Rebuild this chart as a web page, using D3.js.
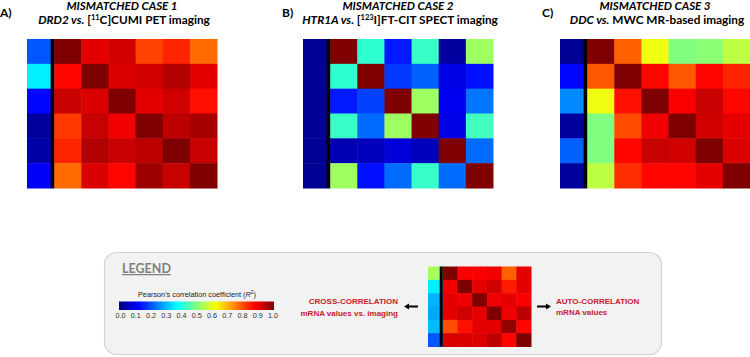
<!DOCTYPE html>
<html>
<head>
<meta charset="utf-8">
<script src="https://cdn.jsdelivr.net/npm/d3@7"></script>
<style>
  body { margin: 0; background: #fff; }
</style>
</head>
<body>
<div id="chart"></div>
<script>
const width = 750;
const height = 357;

// colour bar tick labels
const tickLabels = ['0.0', '0.1', '0.2', '0.3', '0.4', '0.5', '0.6', '0.7', '0.8', '0.9', '1.0'];

// case 1: DRD2 vs [11C]CUMI
const crossA = [0.21, 0.36, 0.13, 0.03, 0.04, 0.12];
const autoA = [
  [1.00, 0.90, 0.92, 0.81, 0.84, 0.77],
  [0.87, 1.00, 0.91, 0.92, 0.95, 0.90],
  [0.93, 0.91, 1.00, 0.90, 0.92, 0.86],
  [0.82, 0.93, 0.89, 1.00, 0.94, 0.96],
  [0.84, 0.95, 0.93, 0.94, 1.00, 0.93],
  [0.77, 0.91, 0.87, 0.97, 0.93, 1.00]
];

// case 2: HTR1A vs [123I]FT-CIT
const crossB = [0.02, 0.02, 0.02, 0.02, 0.02, 0.02];
const autoB = [
  [1.00, 0.42, 0.15, 0.43, 0.03, 0.53],
  [0.42, 1.00, 0.18, 0.22, 0.10, 0.14],
  [0.15, 0.19, 1.00, 0.53, 0.11, 0.24],
  [0.43, 0.23, 0.53, 1.00, 0.10, 0.44],
  [0.05, 0.06, 0.09, 0.06, 1.00, 0.23],
  [0.53, 0.14, 0.23, 0.43, 0.23, 1.00]
];

// case 3: DDC vs MWC
const crossC = [0.02, 0.13, 0.26, 0.03, 0.22, 0.03];
const autoC = [
  [1.00, 0.78, 0.61, 0.50, 0.51, 0.56],
  [0.79, 1.00, 0.87, 0.79, 0.87, 0.84],
  [0.61, 0.86, 1.00, 0.88, 0.93, 0.87],
  [0.50, 0.80, 0.89, 1.00, 0.92, 0.90],
  [0.50, 0.87, 0.93, 0.92, 1.00, 0.91],
  [0.56, 0.83, 0.87, 0.87, 0.90, 1.00]
];

// legend example
const crossL = [0.54, 0.36, 0.30, 0.29, 0.31, 0.21];
const autoL = [
  [1.00, 0.88, 0.88, 0.89, 0.78, 0.90],
  [0.89, 1.00, 0.90, 0.92, 0.85, 0.90],
  [0.90, 0.89, 1.00, 0.89, 0.90, 0.88],
  [0.90, 0.92, 0.90, 1.00, 0.89, 0.94],
  [0.80, 0.86, 0.90, 0.90, 0.98, 0.87],
  [0.91, 0.91, 0.91, 0.94, 0.87, 1.00]
];

// jet colormap
const jet = d3.scaleLinear()
  .domain([0, 0.125, 0.375, 0.625, 0.875, 1])
  .range(['#00007f', '#0000ff', '#00ffff', '#ffff00', '#ff0000', '#7f0000'])
  .clamp(true);

const svg = d3.select('#chart')
  .append('svg')
  .attr('width', width)
  .attr('height', height)
  .style('font-family', 'Lato, "Open Sans", sans-serif');

function drawMatrix(x0, y0, w, h, cross, auto, sepW) {
  const g = svg.append('g').attr('transform', `translate(${x0},${y0})`);
  const x = d3.scaleBand().domain(d3.range(7)).range([0, w]);
  const y = d3.scaleBand().domain(d3.range(6)).range([0, h]);
  const cells = [];
  cross.forEach((v, r) => cells.push({ r, c: 0, v }));
  auto.forEach((row, r) => row.forEach((v, c) => cells.push({ r, c: c + 1, v })));
  g.selectAll('rect.cell')
    .data(cells)
    .join('rect')
    .attr('class', 'cell')
    .attr('x', d => x(d.c))
    .attr('y', d => y(d.r))
    .attr('width', x.bandwidth() + 0.5)
    .attr('height', y.bandwidth() + 0.5)
    .attr('fill', d => jet(d.v));
  g.append('rect')
    .attr('x', x(1) - sepW)
    .attr('y', 0)
    .attr('width', sepW)
    .attr('height', h)
    .attr('fill', '#000');
}

const panels = [
  { letter: 'A)', lx: 0, x0: 27, cross: crossA, auto: autoA, num: '1',
    parts: [['DRD2 vs.', 'italic'], [' [', 'normal'], ['11', 'sup'], ['C]CUMI PET imaging', 'normal']] },
  { letter: 'B)', lx: 282, x0: 303, cross: crossB, auto: autoB, num: '2',
    parts: [['HTR1A vs.', 'italic'], [' [', 'normal'], ['123', 'sup'], ['I]FT-CIT SPECT imaging', 'normal']] },
  { letter: 'C)', lx: 542, x0: 560, cross: crossC, auto: autoC, num: '3',
    parts: [['DDC vs.', 'italic'], [' MWC MR-based imaging', 'normal']] }
];

panels.forEach(p => {
  const w = 190;
  drawMatrix(p.x0, 39, w, 149, p.cross, p.auto, 3.5);
  const cx = p.x0 + w / 2;

  svg.append('text')
    .attr('x', p.lx)
    .attr('y', 17)
    .style('font-size', '12px')
    .style('font-weight', 'bold')
    .text(p.letter);

  svg.append('text')
    .attr('x', cx)
    .attr('y', 10)
    .attr('text-anchor', 'middle')
    .style('font-size', '11.6px')
    .style('font-weight', 'bold')
    .style('font-style', 'italic')
    .text('MISMATCHED CASE ' + p.num);

  const t = svg.append('text')
    .attr('x', cx + 2)
    .attr('y', 23.5)
    .attr('text-anchor', 'middle')
    .style('font-size', '11.8px')
    .style('font-weight', 'bold');
  let raised = false;
  p.parts.forEach(([s, kind]) => {
    const ts = t.append('tspan').text(s);
    if (kind === 'italic') ts.style('font-style', 'italic');
    if (kind === 'sup') {
      ts.attr('dy', -4).style('font-size', '7.5px');
      raised = true;
    } else if (raised) {
      ts.attr('dy', 4);
      raised = false;
    }
  });
});

// legend box
const legend = svg.append('g');
legend.append('rect')
  .attr('x', 104.5)
  .attr('y', 252.5)
  .attr('width', 557)
  .attr('height', 102)
  .attr('rx', 12)
  .attr('fill', '#f2f2f2')
  .attr('stroke', '#d4d4d4')
  .attr('stroke-width', 1.2);

legend.append('text')
  .attr('x', 122)
  .attr('y', 273)
  .style('font-size', '12.5px')
  .style('font-weight', 'bold')
  .style('fill', '#7f7f7f')
  .style('text-decoration', 'underline')
  .text('LEGEND');

// colour bar
const barX = d3.scaleLinear().domain([0, 1]).range([120.5, 273]);
const defs = svg.append('defs');
const grad = defs.append('linearGradient').attr('id', 'jetGrad');
d3.range(0, 1.0001, 0.025).forEach(v => {
  grad.append('stop').attr('offset', v).attr('stop-color', jet(v));
});
legend.append('rect')
  .attr('x', 119)
  .attr('y', 301.5)
  .attr('width', 155)
  .attr('height', 8.5)
  .attr('fill', 'url(#jetGrad)');

const pearson = legend.append('text')
  .attr('x', 197)
  .attr('y', 296.5)
  .attr('text-anchor', 'middle')
  .style('font-family', '"Liberation Sans", Arial, sans-serif')
  .style('font-size', '7.3px')
  .style('fill', '#222');
pearson.append('tspan').text("Pearson's correlation coefficient (");
pearson.append('tspan').style('font-style', 'italic').text('R');
pearson.append('tspan').attr('dy', -2.5).style('font-size', '5px').text('2');
pearson.append('tspan').attr('dy', 2.5).text(')');

legend.selectAll('text.tick')
  .data(tickLabels)
  .join('text')
  .attr('class', 'tick')
  .attr('x', (d, i) => barX(i / 10))
  .attr('y', 317.5)
  .attr('text-anchor', 'middle')
  .style('font-family', '"Liberation Sans", Arial, sans-serif')
  .style('font-size', '7.3px')
  .style('fill', '#333')
  .text(d => d);

// example matrix
drawMatrix(428, 266.5, 103, 80, crossL, autoL, 3);

const red = '#c8202c';
const crossText = legend.append('text')
  .attr('text-anchor', 'end')
  .style('font-family', '"Liberation Sans", Arial, sans-serif')
  .style('font-size', '8px')
  .style('font-weight', 'bold')
  .style('fill', red);
crossText.append('tspan').attr('x', 398).attr('y', 304).text('CROSS-CORRELATION');
crossText.append('tspan').attr('x', 398).attr('y', 315.5).text('mRNA values vs. imaging');

const autoText = legend.append('text')
  .style('font-family', '"Liberation Sans", Arial, sans-serif')
  .style('font-size', '8px')
  .style('font-weight', 'bold')
  .style('fill', red);
autoText.append('tspan').attr('x', 556).attr('y', 303.5).text('AUTO-CORRELATION');
autoText.append('tspan').attr('x', 556).attr('y', 315).text('mRNA values');

// arrows
function arrow(x1, x2, y) {
  const dir = Math.sign(x2 - x1);
  legend.append('line')
    .attr('x1', x1).attr('x2', x2 - dir * 4)
    .attr('y1', y).attr('y2', y)
    .attr('stroke', '#000')
    .attr('stroke-width', 2);
  legend.append('path')
    .attr('d', `M${x2},${y} L${x2 - dir * 5},${y - 3} L${x2 - dir * 5},${y + 3} Z`)
    .attr('fill', '#000');
}
arrow(418, 404, 306.5);
arrow(537, 551, 306.5);
</script>
</body>
</html>
